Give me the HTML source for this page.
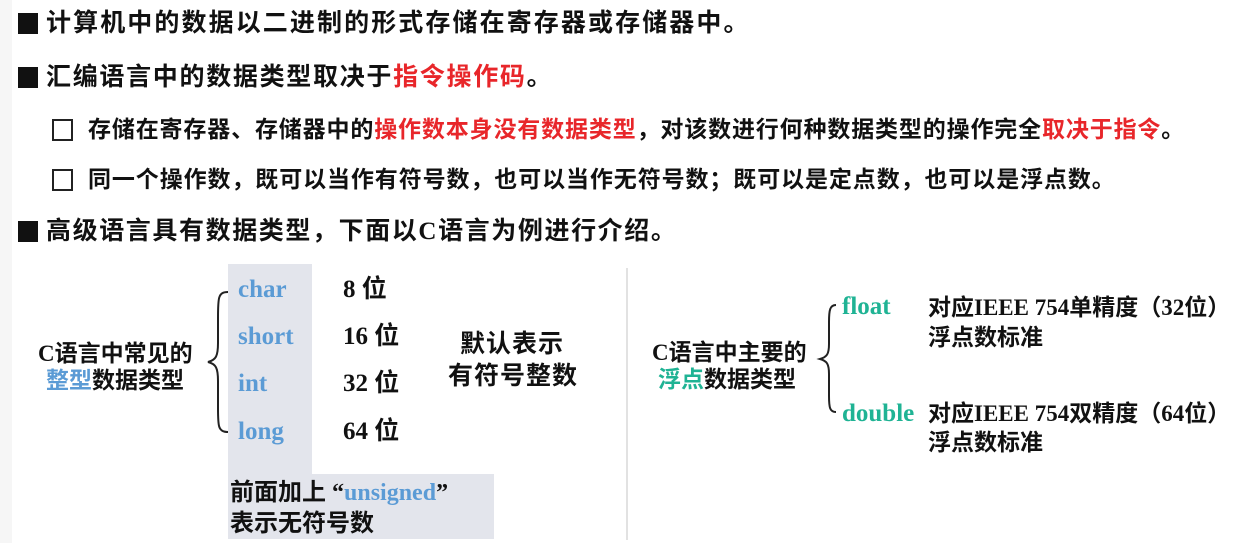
<!DOCTYPE html>
<html><head><meta charset="utf-8"><style>
body{margin:0;width:1234px;height:543px;background:#fff;position:relative;overflow:hidden;font-family:"Liberation Sans","Noto Sans CJK SC",sans-serif;font-weight:bold;color:#111}
.a{position:absolute;white-space:nowrap;line-height:1}
.sq{position:absolute;width:20px;height:21px;background:#111}
.cb{position:absolute;width:17px;height:18px;border:2px solid #222;background:#fff}
.r{color:#e8262a}
.s{font-family:"Liberation Serif","Noto Sans CJK SC",serif;font-weight:bold}
.b{color:#5b9bd5}
.t{color:#1fb394}
</style></head><body>
<div style="position:absolute;left:0;top:0;width:12px;height:543px;background:#f6f6f6"></div>
<div class="sq" style="left:18px;top:13px"></div>
<div class="a" style="left:46px;top:11px;font-size:25px;letter-spacing:2.1px">计算机中的数据以二进制的形式存储在寄存器或存储器中。</div>
<div class="sq" style="left:18px;top:67px"></div>
<div class="a" style="left:46px;top:65px;font-size:25px;letter-spacing:1.7px">汇编语言中的数据类型取决于<span class="r">指令操作码</span>。</div>
<div class="cb" style="left:52px;top:119px"></div>
<div class="a" style="left:88px;top:118px;font-size:23px;letter-spacing:0.85px">存储在寄存器、存储器中的<span class="r">操作数本身没有数据类型</span>，对该数进行何种数据类型的操作完全<span class="r">取决于指令</span>。</div>
<div class="cb" style="left:52px;top:169px"></div>
<div class="a" style="left:88px;top:168px;font-size:23px;letter-spacing:0.9px">同一个操作数，既可以当作有符号数，也可以当作无符号数；既可以是定点数，也可以是浮点数。</div>
<div class="sq" style="left:18px;top:221px"></div>
<div class="a" style="left:46px;top:219px;font-size:25px;letter-spacing:1.6px">高级语言具有数据类型，下面以<span class="s">C</span>语言为例进行介绍。</div>

<div style="position:absolute;left:228px;top:264px;width:84px;height:212px;background:#e3e5ec"></div>
<div style="position:absolute;left:228px;top:474px;width:266px;height:65px;background:#e3e5ec"></div>
<div class="a" style="left:38px;top:342px;font-size:23px"><span class="s">C</span>语言中常见的</div>
<div class="a" style="left:46px;top:369px;font-size:23px"><span class="b">整型</span>数据类型</div>
<svg style="position:absolute;left:200px;top:288px" width="32" height="150"><path d="M28 4 C18 4 18 10 18 30 L18 55 C18 68 16 72 8 74 C16 76 18 80 18 93 L18 120 C18 138 18 144 28 144" fill="none" stroke="#222" stroke-width="2"/></svg>
<div class="a s b" style="left:238px;top:277px;font-size:25px">char</div>
<div class="a s b" style="left:238px;top:324px;font-size:25px">short</div>
<div class="a s b" style="left:238px;top:371px;font-size:25px">int</div>
<div class="a s b" style="left:238px;top:419px;font-size:25px">long</div>
<div class="a" style="left:343px;top:277px;font-size:25px"><span class="s">8 </span>位</div>
<div class="a" style="left:343px;top:324px;font-size:25px"><span class="s">16 </span>位</div>
<div class="a" style="left:343px;top:371px;font-size:25px"><span class="s">32 </span>位</div>
<div class="a" style="left:343px;top:419px;font-size:25px"><span class="s">64 </span>位</div>
<div class="a" style="left:460px;top:332px;font-size:25px;letter-spacing:1px">默认表示</div>
<div class="a" style="left:448px;top:364px;font-size:25px;letter-spacing:1px">有符号整数</div>
<div class="a" style="left:230px;top:481px;font-size:24px">前面加上<span class="s"> “</span><span class="s b">unsigned</span><span class="s">”</span></div>
<div class="a" style="left:230px;top:512px;font-size:24px">表示无符号数</div>

<div style="position:absolute;left:626px;top:268px;width:2px;height:272px;background:#e2e2e2"></div>
<div class="a" style="left:652px;top:341px;font-size:23px"><span class="s">C</span>语言中主要的</div>
<div class="a" style="left:658px;top:368px;font-size:23px"><span class="t">浮点</span>数据类型</div>
<svg style="position:absolute;left:808px;top:302px" width="30" height="114"><path d="M28 3 C22 3 21 8 21 20 L21 42 C21 52 19 55 12 57 C19 59 21 62 21 72 L21 94 C21 106 22 110 28 110" fill="none" stroke="#222" stroke-width="2"/></svg>
<div class="a s t" style="left:842px;top:294px;font-size:25px">float</div>
<div class="a s t" style="left:842px;top:401px;font-size:25px">double</div>
<div class="a" style="left:928px;top:296px;font-size:23px">对应<span class="s">IEEE 754</span>单精度（<span class="s">32</span>位）</div>
<div class="a" style="left:928px;top:326px;font-size:23px">浮点数标准</div>
<div class="a" style="left:928px;top:402px;font-size:23px">对应<span class="s">IEEE 754</span>双精度（<span class="s">64</span>位）</div>
<div class="a" style="left:928px;top:431px;font-size:23px">浮点数标准</div>
</body></html>
